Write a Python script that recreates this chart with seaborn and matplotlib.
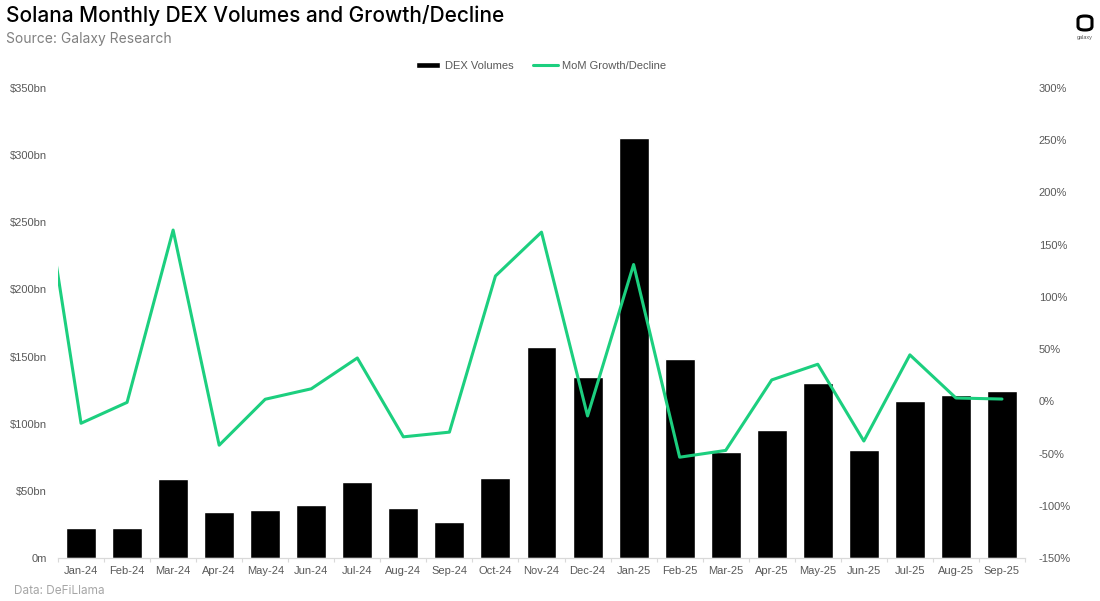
import matplotlib
matplotlib.use("Agg")
import matplotlib.pyplot as plt
import matplotlib.ticker as mticker
from matplotlib.patches import FancyBboxPatch
import numpy as np
import pandas as pd
import seaborn as sns

months = ["Jan-24", "Feb-24", "Mar-24", "Apr-24", "May-24", "Jun-24", "Jul-24",
          "Aug-24", "Sep-24", "Oct-24", "Nov-24", "Dec-24", "Jan-25", "Feb-25",
          "Mar-25", "Apr-25", "May-25", "Jun-25", "Jul-25", "Aug-25", "Sep-25"]
dex_volumes_bn = [22, 22, 59, 34.5, 35.5, 39.5, 56.5, 37, 27, 59.5, 157, 134.5,
                  312.5, 148.3, 79, 95.3, 130.3, 80.4, 117, 121.4, 124.3]
# MoM growth; the first value belongs to Dec-23, drawn off the left edge (clipped)
mom_prev_month = "Dec-23"
mom_growth_pct = [262, -21, -1, 164, -42, 2, 12, 41.5, -34, -29.5, 120, 162, -14,
                  131, -53.5, -47, 20.5, 35.5, -38, 44.5, 3.2, 2.2]

left_ticks = [0, 50, 100, 150, 200, 250, 300, 350]
left_labels = ["0m", "$50bn", "$100bn", "$150bn", "$200bn", "$250bn", "$300bn", "$350bn"]
right_ticks = [-150, -100, -50, 0, 50, 100, 150, 200, 250, 300]

sns.set_theme(style="white")
plt.rcParams["font.family"] = ["Liberation Sans", "DejaVu Sans"]

GREEN = "#1ccf7f"
GREY = "#595959"

fig = plt.figure(figsize=(11, 6.01), dpi=100)
ax = fig.add_axes([58 / 1100, 43 / 601, (1025 - 58) / 1100, (558 - 88) / 601])

bar_df = pd.DataFrame({"pos": np.arange(len(months)), "vol": dex_volumes_bn})
sns.barplot(data=bar_df, x="pos", y="vol", color="black", width=0.65,
            saturation=1, ax=ax, native_scale=True, label="DEX Volumes")
h1, l1 = ax.get_legend_handles_labels()
if ax.get_legend() is not None:
    ax.get_legend().remove()
ax.set_ylim(0, 350)
ax.set_yticks(left_ticks)
ax.set_yticklabels(left_labels)
ax.set_xticks(np.arange(len(months)))
ax.set_xticklabels(months)
ax.set_xlim(-0.5, len(months) - 0.5)
ax.set_xlabel("")
ax.set_ylabel("")

ax2 = ax.twinx()
line_df = pd.DataFrame({"pos": np.arange(-1, len(months)), "g": mom_growth_pct})
sns.lineplot(data=line_df, x="pos", y="g", color=GREEN, linewidth=2.2, ax=ax2,
             label="MoM Growth/Decline", legend=False)
h2, l2 = ax2.get_legend_handles_labels()
if ax2.get_legend() is not None:
    ax2.get_legend().remove()
ax2.set_ylim(-150, 300)
ax2.set_yticks(right_ticks)
ax2.yaxis.set_major_formatter(mticker.FuncFormatter(lambda v, p: f"{v:.0f}%"))
ax2.set_xlim(-0.5, len(months) - 0.5)
ax2.set_ylabel("")
ax2.set_xlabel("")

for a in (ax, ax2):
    for s in ("top", "left", "right"):
        a.spines[s].set_visible(False)
    a.spines["bottom"].set_color("#d9d9d9")
    a.spines["bottom"].set_linewidth(0.8)

ax.tick_params(axis="y", length=0, labelsize=8, colors=GREY, pad=8)
ax2.tick_params(axis="y", length=0, labelsize=8, colors=GREY, pad=10)
ax.set_xticks(np.arange(len(months) + 1) - 0.5, minor=True)
ax.tick_params(axis="x", which="major", length=0, labelsize=8, colors=GREY, pad=6)
ax.tick_params(axis="x", which="minor", length=3, color="#d9d9d9", width=0.8, bottom=True)
ax.grid(False)
ax2.grid(False)

# legend
leg = fig.legend(h1 + h2, l1 + l2, loc="center", bbox_to_anchor=(0.492, 0.8905),
                 ncol=2, frameon=False, fontsize=8, handlelength=2.2, handleheight=0.5,
                 columnspacing=1.8, handletextpad=0.4)
for t in leg.get_texts():
    t.set_color(GREY)

# titles
fig.text(6 / 1100, 1 - 16 / 601, "Solana Monthly DEX Volumes and Growth/Decline",
         fontsize=15, color="black", va="center", ha="left", weight="medium",
         family=["Inter", "DejaVu Sans"])
fig.text(6 / 1100, 1 - 39 / 601, "Source: Galaxy Research", fontsize=10,
         color="#808080", va="center", ha="left", family=["Inter", "DejaVu Sans"])
fig.text(14 / 1100, 1 - 591 / 601, "Data: DeFiLlama", fontsize=8.5,
         color="#a6a6a6", va="center", ha="left", family=["Inter", "DejaVu Sans"])

# logo
logo = FancyBboxPatch((1078 / 1100, 1 - 30 / 601), 14 / 1100, 14 / 601,
                      boxstyle="round,pad=0,rounding_size=0.006", transform=fig.transFigure,
                      facecolor="white", edgecolor="black", linewidth=2.2)
fig.patches.append(logo)
fig.text(1085 / 1100, 1 - 37 / 601, "galaxy", fontsize=4, color="#555555",
         ha="center", va="center")

fig.savefig("out.png", dpi=100, facecolor="white")
